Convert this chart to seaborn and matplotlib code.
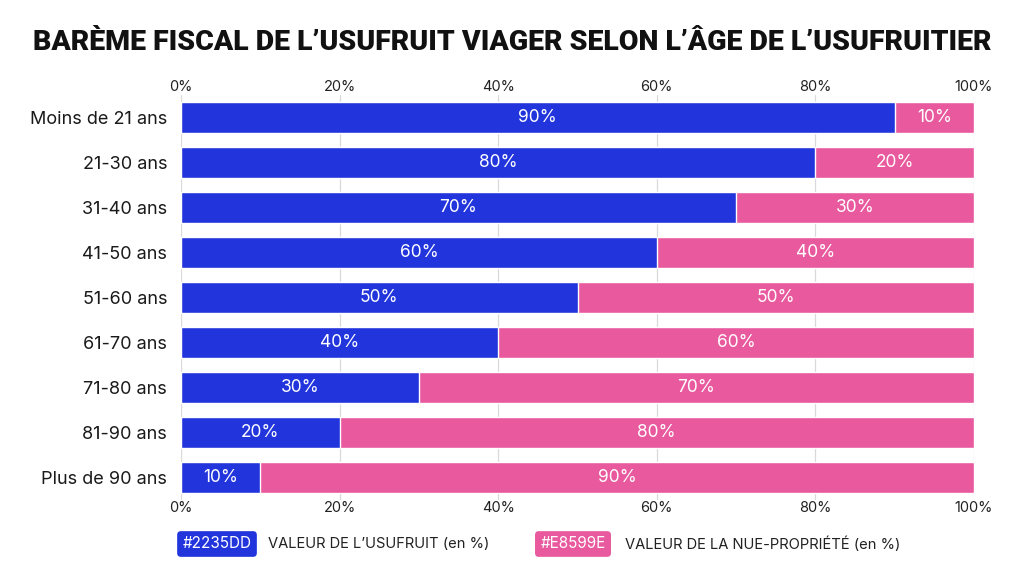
import matplotlib
matplotlib.use("Agg")
import matplotlib.pyplot as plt
import seaborn as sns
import pandas as pd

categories = ["Moins de 21 ans", "21-30 ans", "31-40 ans", "41-50 ans", "51-60 ans",
              "61-70 ans", "71-80 ans", "81-90 ans", "Plus de 90 ans"]
usufruit = [90, 80, 70, 60, 50, 40, 30, 20, 10]
nue_propriete = [10, 20, 30, 40, 50, 60, 70, 80, 90]
tick_values = [0, 20, 40, 60, 80, 100]
tick_labels = ["0%", "20%", "40%", "60%", "80%", "100%"]
title = "BARÈME FISCAL DE L’USUFRUIT VIAGER SELON L’ÂGE DE L’USUFRUITIER"
legend_labels = ["VALEUR DE L’USUFRUIT (en %)", "VALEUR DE LA NUE-PROPRIÉTÉ (en %)"]
legend_codes = ["#2235DD", "#E8599E"]

BLUE = "#2235DD"
PINK = "#E8599E"

sns.set_theme(style="white")
plt.rcParams["font.family"] = ["Inter", "DejaVu Sans"]

df = pd.DataFrame({"cat": categories, "u": usufruit, "n": nue_propriete})
df["total"] = df["u"] + df["n"]

fig = plt.figure(figsize=(10.24, 5.72), dpi=100)
ax = fig.add_axes([181/1024, 1 - 500/572, (974-181)/1024, (500-95)/572])

sns.barplot(data=df, y="cat", x="total", color=PINK, orient="h", width=0.69,
            saturation=1, ax=ax, zorder=2)
sns.barplot(data=df, y="cat", x="u", color=BLUE, orient="h", width=0.69,
            saturation=1, ax=ax, zorder=3)

for i, (u, n) in enumerate(zip(usufruit, nue_propriete)):
    ax.text(u / 2, i, f"{u}%", color="white", ha="center", va="center",
            fontsize=12.5, zorder=4)
    ax.text(u + n / 2, i, f"{n}%", color="white", ha="center", va="center",
            fontsize=12.5, zorder=4)

ax.set_xlim(0, 100)
ax.set_ylim(8.5, -0.5)
ax.set_xticks(tick_values)
ax.set_xticklabels(tick_labels)
ax.tick_params(axis="x", labeltop=True, labelbottom=True, top=False, bottom=False,
               length=0, labelsize=10.5, pad=1, colors="#222222")
ax.tick_params(axis="y", left=False, length=0, labelsize=13, pad=10, colors="#1a1a1a")
ax.set_xlabel("")
ax.set_ylabel("")
ax.grid(axis="x", color="#d9d9d9", linewidth=0.9, zorder=0)
ax.set_axisbelow(True)
for s in ax.spines.values():
    s.set_visible(False)

fig.text(0.5, 1 - 43/572, title, ha="center", va="center", fontsize=20.5,
         fontweight=900, family=["Roboto", "DejaVu Sans"], color="#111111")

# legend
ly = 1 - 544/572
fig.text(217/1024, ly, legend_codes[0], ha="center", va="center", color="white", fontsize=11,
         bbox=dict(boxstyle="round,pad=0.35,rounding_size=0.25", fc=BLUE, ec="none"))
fig.text(268/1024, ly, legend_labels[0], ha="left", va="center", color="#222222", fontsize=10.6)
fig.text(573/1024, ly, legend_codes[1], ha="center", va="center", color="white", fontsize=11,
         bbox=dict(boxstyle="round,pad=0.35,rounding_size=0.25", fc=PINK, ec="none"))
fig.text(625/1024, ly, legend_labels[1], ha="left", va="center", color="#222222", fontsize=10.6)

fig.savefig("out.png", dpi=100, facecolor="white")
